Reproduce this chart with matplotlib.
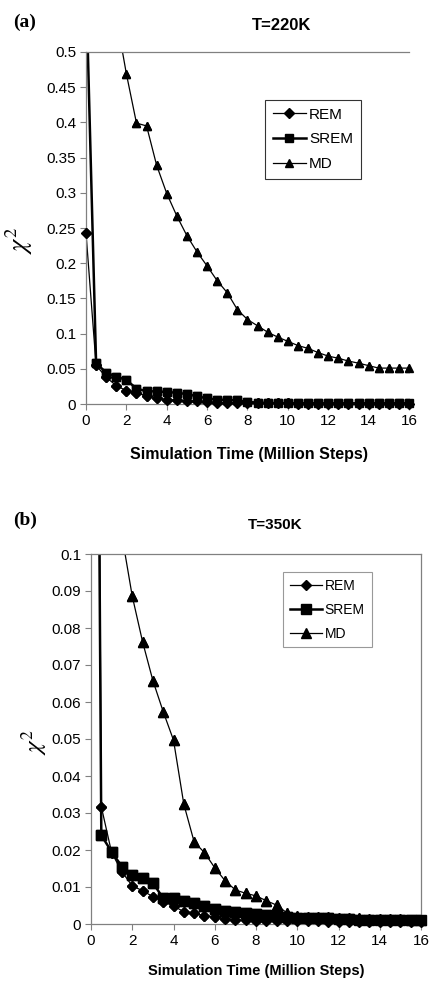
import numpy as np
import matplotlib
matplotlib.use('Agg')
import matplotlib.pyplot as plt
from matplotlib.ticker import FuncFormatter

plt.rcParams['font.family'] = ['Liberation Sans', 'DejaVu Sans']
plt.rcParams['mathtext.fontset'] = 'stix'

# time axis (million steps), same for both panels
steps = [0, 0.5, 1, 1.5, 2, 2.5, 3, 3.5, 4, 4.5, 5, 5.5, 6, 6.5, 7, 7.5, 8,
         8.5, 9, 9.5, 10, 10.5, 11, 11.5, 12, 12.5, 13, 13.5, 14, 14.5, 15, 15.5, 16]

# (a) T=220K
rem_220 = [0.243, 0.055, 0.038, 0.026, 0.019, 0.015, 0.012, 0.009, 0.006, 0.005, 0.004,
           0.004, 0.003, 0.002, 0.002, 0.002, 0.001, 0.001, 0.001, 0.0008, 0.0008, 0.0007,
           0.0007, 0.0006, 0.0006, 0.0006, 0.0005, 0.0005, 0.0005, 0.0005, 0.0005, 0.0005, 0.0005]
srem_220 = [0.6, 0.058, 0.0445, 0.039, 0.034, 0.022, 0.018, 0.018, 0.017, 0.016, 0.014,
            0.011, 0.008, 0.006, 0.006, 0.005, 0.003, 0.002, 0.0015, 0.0012, 0.0012, 0.0011,
            0.0011, 0.001, 0.001, 0.001, 0.001, 0.001, 0.001, 0.001, 0.001, 0.001, 0.001]
md_220 = [1.2, 0.95, 0.75, 0.55, 0.469, 0.399, 0.395, 0.339, 0.299, 0.267, 0.239,
          0.216, 0.196, 0.175, 0.158, 0.134, 0.120, 0.111, 0.102, 0.095, 0.089, 0.083,
          0.079, 0.073, 0.068, 0.065, 0.061, 0.058, 0.0545, 0.051, 0.051, 0.051, 0.051]

# (b) T=350K
rem_350 = [0.5, 0.0317, 0.0193, 0.0141, 0.0103, 0.009, 0.0074, 0.006, 0.0049, 0.0033, 0.003,
           0.0022, 0.002, 0.0013, 0.0012, 0.001, 0.0008, 0.0008, 0.0007, 0.0007, 0.0007, 0.0007,
           0.0007, 0.0006, 0.0006, 0.0006, 0.0006, 0.0006, 0.0006, 0.0006, 0.0006, 0.0006, 0.0006]
srem_350 = [0.45, 0.024, 0.0195, 0.0155, 0.0132, 0.0123, 0.0112, 0.0069, 0.0069, 0.0061, 0.0056,
            0.0049, 0.0041, 0.0034, 0.0033, 0.003, 0.0028, 0.0024, 0.0022, 0.002, 0.0017, 0.0016,
            0.0015, 0.0015, 0.0014, 0.0013, 0.0012, 0.0012, 0.0011, 0.0011, 0.001, 0.001, 0.001]
md_350 = [0.2, 0.16, 0.13, 0.105, 0.0886, 0.0763, 0.0658, 0.0574, 0.0497, 0.0324, 0.0222,
          0.0193, 0.0152, 0.0117, 0.0092, 0.0083, 0.0076, 0.0063, 0.0051, 0.003, 0.0022, 0.002,
          0.0019, 0.0018, 0.0017, 0.0016, 0.0015, 0.0014, 0.0014, 0.0013, 0.0013, 0.0012, 0.0012]

W, H = 442, 990
fig = plt.figure(figsize=(W / 100, H / 100), dpi=100)
grey = '#808080'


def rect(x0, y0, x1, y1):
    # pixel box (top-left origin) -> figure fraction
    return [x0 / W, 1 - y1 / H, (x1 - x0) / W, (y1 - y0) / H]


def draw(ax, ymax, series):
    x = np.array(steps)
    for ys, mk, lw, size, lab in series:
        ys = np.array(ys)
        ax.plot(x, ys, color='black', lw=lw, marker=mk, ms=size, label=lab)
        # markers on the axis edges are not cut off in the original
        keep = ys <= ymax
        ax.plot(x[keep], ys[keep], ls='none', marker=mk, ms=size, color='black',
                clip_on=False, zorder=4)
    ax.set_xlim(0, 16)
    ax.set_ylim(0, ymax)
    ax.set_xticks(range(0, 17, 2))
    ax.yaxis.set_major_formatter(FuncFormatter(lambda v, p: '%g' % round(v, 3)))
    ax.tick_params(direction='out', length=4, width=0.8, color=grey, labelsize=11, pad=3)
    for s in ax.spines.values():
        s.set_color(grey)
        s.set_linewidth(0.9)


# ---- panel (a)
ax1 = fig.add_axes(rect(86, 52, 409, 404))
draw(ax1, 0.5, [(rem_220, 'D', 0.9, 5, 'REM'),
                (srem_220, 's', 1.8, 5.5, 'SREM'),
                (md_220, '^', 0.9, 6, 'MD')])
ax1.set_yticks(np.arange(0, 0.51, 0.05))
ax1.spines['right'].set_visible(False)
leg = ax1.legend(loc='upper left', bbox_to_anchor=(0.554, 0.864), fontsize=11,
                 frameon=True, fancybox=False, edgecolor='black', handlelength=2.2,
                 borderpad=0.5, labelspacing=0.7, handletextpad=0.2, borderaxespad=0)
leg.get_frame().set_linewidth(0.8)

fig.text(13 / W, 1 - 22 / H, '(a)', family='Liberation Serif', weight='bold',
         fontsize=14, va='center', ha='left')
fig.text(282 / W, 1 - 25 / H, 'T=220K', weight='bold', fontsize=12, ha='center', va='center')
fig.text(249 / W, 1 - 454 / H, 'Simulation Time (Million Steps)', weight='bold',
         fontsize=11.5, ha='center', va='center')
fig.text(19 / W, 1 - 240 / H, r'$\chi^2$', fontsize=19, rotation=90, ha='center', va='center')

# ---- panel (b)
ax2 = fig.add_axes(rect(91, 554, 421, 924))
draw(ax2, 0.1, [(rem_350, 'D', 0.9, 5.5, 'REM'),
                (srem_350, 's', 1.8, 6.5, 'SREM'),
                (md_350, '^', 0.9, 6.5, 'MD')])
ax2.set_yticks(np.arange(0, 0.101, 0.01))
leg2 = ax2.legend(loc='upper left', bbox_to_anchor=(0.582, 0.951), fontsize=10,
                  frameon=True, fancybox=False, edgecolor=grey, handlelength=2.3,
                  borderpad=0.5, labelspacing=0.7, handletextpad=0.2, borderaxespad=0)
leg2.get_frame().set_linewidth(0.8)

fig.text(13 / W, 1 - 520 / H, '(b)', family='Liberation Serif', weight='bold',
         fontsize=14, va='center', ha='left')
fig.text(275 / W, 1 - 525 / H, 'T=350K', weight='bold', fontsize=11, ha='center', va='center')
fig.text(256 / W, 1 - 971 / H, 'Simulation Time (Million Steps)', weight='bold',
         fontsize=10.5, ha='center', va='center')
fig.text(34 / W, 1 - 742 / H, r'$\chi^2$', fontsize=18, rotation=90, ha='center', va='center')

fig.savefig('out.png', dpi=100)
